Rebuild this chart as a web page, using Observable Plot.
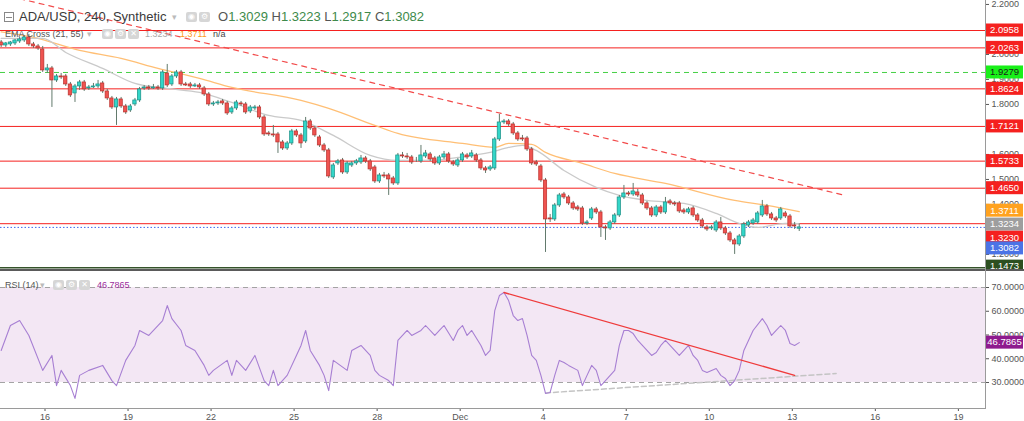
<!DOCTYPE html>
<html><head><meta charset="utf-8">
<script src="https://cdn.jsdelivr.net/npm/d3@7"></script>
<script src="https://cdn.jsdelivr.net/npm/@observablehq/plot@0.6"></script>
<style>
html,body{margin:0;padding:0;background:#fff;width:1024px;height:421px;overflow:hidden;font-family:"Liberation Sans",Arial,sans-serif}
#wrap{position:relative;width:1024px;height:421px;overflow:hidden}
#main,#rsi{position:absolute;left:0}
#main{top:0}
#rsi{top:270px}
.a{position:absolute;white-space:nowrap}
.t1{font-size:13px;color:#3a3a3a;line-height:13px}
.t2{font-size:9px;color:#555;line-height:9px}
.ib{position:absolute;width:11px;height:10px;background:#d6d6d6;border-radius:2px;color:#fff;font-size:8px;line-height:10px;text-align:center;font-family:"DejaVu Sans"}
.car{position:absolute;color:#bbb;font-size:9px;line-height:9px;font-family:"DejaVu Sans"}
.g{color:#3d8a4a}
.k{color:#555}
</style></head><body>
<div id="wrap">
<div id="main"></div>
<div id="rsi"></div>
<div class="a" style="left:0;top:269px;width:1024px;height:2px;background:#5a5a5a"></div>
<div class="a" style="left:985px;top:0;width:1px;height:409px;background:#9a9a9a"></div>

<div class="a" style="left:4px;top:12px;width:8px;height:8px;border:1px solid #888"><div style="position:absolute;left:1px;top:3.5px;width:6px;height:1px;background:#888"></div></div>
<div class="a t1" style="left:19px;top:10px">ADA/USD, 240, Synthetic</div>
<div class="car" style="left:172px;top:13px">▾</div>
<div class="ib" style="left:186px;top:12px">◉</div>
<div class="ib" style="left:199px;top:12px">⚙</div>
<div class="a t1" style="left:218px;top:10px"><span class="k">O</span><span class="g">1.3029</span> <span class="k">H</span><span class="g">1.3223</span> <span class="k">L</span><span class="g">1.2917</span> <span class="k">C</span><span class="g">1.3082</span></div>

<div class="a t2" style="left:5px;top:30px">EMA Cross (21, 55)</div>
<div class="car" style="left:87px;top:30px">▾</div>
<div class="ib" style="left:102px;top:29px">◉</div>
<div class="ib" style="left:115px;top:29px">⚙</div>
<div class="ib" style="left:128px;top:29px">✕</div>
<div class="a t2" style="left:145px;top:30px;color:#a9a9a9">1.3234</div>
<div class="a t2" style="left:180px;top:30px;color:#ff9a1a">1.3711</div>
<div class="a t2" style="left:213px;top:30px;color:#444">n/a</div>

<div class="a t2" style="left:5px;top:281px">RSI (14)</div>
<div class="car" style="left:40px;top:281px">▾</div>
<div class="ib" style="left:53px;top:280px">◉</div>
<div class="ib" style="left:66px;top:280px">⚙</div>
<div class="ib" style="left:79px;top:280px">✕</div>
<div class="a t2" style="left:97px;top:281px;color:#9b2c9b">46.7865</div>
</div>
<script>
// ---------- data (240-minute candles, ADA/USD) ----------
const firstBar = "2021-11-14T08:00:00Z";
const opens = [
2.048,2.036,2.040,2.044,2.052,2.056,2.068,2.040,2.032,2.020,
1.936,1.944,1.896,1.912,1.912,1.880,1.844,1.872,1.888,1.864,
1.868,1.872,1.884,1.852,1.824,1.788,1.820,1.792,1.776,1.800,
1.816,1.864,1.868,1.864,1.868,1.864,1.924,1.880,1.912,1.928,
1.880,1.880,1.872,1.876,1.864,1.840,1.800,1.804,1.812,1.804,
1.768,1.784,1.804,1.800,1.772,1.784,1.788,1.748,1.684,1.680,
1.680,1.648,1.624,1.644,1.692,1.676,1.652,1.732,1.704,1.668,
1.636,1.616,1.508,1.564,1.576,1.528,1.556,1.564,1.568,1.584,
1.572,1.548,1.492,1.516,1.516,1.504,1.484,1.596,1.592,1.588,
1.576,1.572,1.592,1.600,1.584,1.564,1.588,1.600,1.568,1.556,
1.576,1.596,1.592,1.596,1.576,1.544,1.540,1.544,1.660,1.728,
1.732,1.720,1.684,1.664,1.664,1.620,1.568,1.552,1.496,1.344,
1.340,1.396,1.440,1.428,1.404,1.388,1.384,1.324,1.344,1.380,
1.368,1.308,1.304,1.328,1.356,1.428,1.444,1.440,1.448,1.436,
1.404,1.384,1.356,1.388,1.368,1.412,1.404,1.404,1.376,1.368,
1.384,1.356,1.336,1.308,1.304,1.296,1.328,1.304,1.284,1.256,
1.240,1.272,1.316,1.324,1.328,1.356,1.392,1.360,1.344,1.344,
1.364,1.352,1.316,1.3029];
const highs = [
2.056,2.048,2.052,2.060,2.068,2.076,2.080,2.048,2.040,2.032,
1.960,1.952,1.920,1.924,1.920,1.888,1.880,1.896,1.896,1.876,
1.884,1.896,1.892,1.860,1.832,1.828,1.828,1.800,1.800,1.824,
1.868,1.876,1.876,1.880,1.876,1.936,1.960,1.920,1.936,1.936,
1.888,1.888,1.884,1.884,1.872,1.848,1.812,1.816,1.820,1.812,
1.792,1.816,1.812,1.808,1.796,1.796,1.796,1.756,1.692,1.716,
1.688,1.656,1.652,1.700,1.700,1.684,1.748,1.740,1.712,1.676,
1.644,1.624,1.564,1.580,1.584,1.572,1.572,1.580,1.596,1.592,
1.580,1.556,1.524,1.528,1.524,1.512,1.604,1.608,1.604,1.596,
1.588,1.636,1.616,1.608,1.592,1.596,1.612,1.608,1.576,1.584,
1.608,1.604,1.616,1.604,1.584,1.552,1.556,1.668,1.760,1.740,
1.740,1.728,1.692,1.676,1.672,1.628,1.576,1.560,1.504,1.360,
1.404,1.444,1.448,1.436,1.412,1.396,1.392,1.336,1.388,1.388,
1.376,1.316,1.336,1.364,1.436,1.476,1.452,1.484,1.460,1.444,
1.412,1.392,1.396,1.396,1.428,1.420,1.412,1.412,1.384,1.388,
1.392,1.364,1.344,1.316,1.316,1.336,1.348,1.312,1.292,1.264,
1.280,1.328,1.336,1.344,1.372,1.416,1.400,1.368,1.352,1.388,
1.372,1.360,1.328,1.3223];
const lows = [
2.028,2.028,2.032,2.036,2.044,2.048,2.032,2.024,2.016,1.928,
1.924,1.788,1.888,1.900,1.872,1.828,1.808,1.856,1.852,1.856,
1.864,1.864,1.844,1.816,1.780,1.716,1.784,1.760,1.768,1.792,
1.808,1.856,1.856,1.860,1.856,1.856,1.868,1.872,1.904,1.872,
1.872,1.864,1.868,1.860,1.832,1.792,1.792,1.796,1.796,1.756,
1.760,1.776,1.792,1.760,1.764,1.776,1.740,1.672,1.672,1.668,
1.604,1.616,1.616,1.636,1.668,1.624,1.644,1.696,1.668,1.628,
1.608,1.504,1.500,1.556,1.520,1.520,1.548,1.556,1.560,1.564,
1.532,1.484,1.484,1.504,1.436,1.476,1.476,1.584,1.580,1.560,
1.568,1.564,1.584,1.572,1.556,1.556,1.580,1.564,1.552,1.548,
1.568,1.580,1.584,1.568,1.536,1.524,1.532,1.536,1.652,1.720,
1.712,1.676,1.652,1.652,1.612,1.556,1.552,1.488,1.208,1.328,
1.332,1.388,1.420,1.396,1.376,1.372,1.316,1.316,1.336,1.360,
1.268,1.256,1.296,1.320,1.348,1.420,1.432,1.432,1.428,1.396,
1.376,1.348,1.348,1.360,1.360,1.396,1.392,1.364,1.360,1.360,
1.348,1.328,1.304,1.292,1.296,1.288,1.296,1.276,1.248,1.200,
1.232,1.264,1.308,1.316,1.320,1.348,1.352,1.336,1.328,1.336,
1.344,1.304,1.300,1.2917];
const closes = [
2.036,2.044,2.048,2.056,2.060,2.068,2.040,2.032,2.024,1.936,
1.944,1.896,1.912,1.908,1.880,1.836,1.872,1.888,1.860,1.868,
1.872,1.880,1.852,1.824,1.788,1.820,1.792,1.768,1.792,1.816,
1.860,1.868,1.864,1.868,1.864,1.928,1.876,1.912,1.928,1.880,
1.876,1.872,1.876,1.868,1.840,1.800,1.804,1.808,1.804,1.764,
1.784,1.808,1.800,1.768,1.788,1.788,1.748,1.680,1.680,1.676,
1.648,1.624,1.644,1.692,1.676,1.644,1.732,1.704,1.676,1.636,
1.616,1.512,1.556,1.572,1.528,1.564,1.564,1.572,1.584,1.572,
1.540,1.492,1.516,1.512,1.500,1.484,1.596,1.592,1.588,1.568,
1.576,1.596,1.604,1.580,1.564,1.588,1.600,1.572,1.560,1.576,
1.600,1.588,1.604,1.576,1.544,1.536,1.548,1.660,1.728,1.732,
1.720,1.684,1.660,1.660,1.620,1.564,1.560,1.496,1.340,1.340,
1.396,1.436,1.428,1.404,1.384,1.380,1.324,1.328,1.380,1.368,
1.308,1.304,1.328,1.356,1.428,1.444,1.440,1.452,1.436,1.404,
1.384,1.356,1.388,1.368,1.408,1.404,1.400,1.372,1.368,1.380,
1.356,1.336,1.312,1.300,1.308,1.328,1.304,1.284,1.256,1.240,
1.272,1.320,1.328,1.336,1.364,1.392,1.360,1.344,1.336,1.380,
1.352,1.312,1.312,1.3082];

// EMA 55 (orange) and EMA 21 (grey), read at bar indexes
const ema55Bar = [0,7,17,26,34,43,50,65,71,81,86,100,107,110,115,118,126,133,144,159,166,173];
const ema55Val = [2.090,2.068,2.016,1.984,1.944,1.904,1.868,1.816,1.784,1.716,1.684,1.644,1.628,1.644,1.640,1.608,1.564,1.524,1.484,1.416,1.396,1.3711];
const ema21Bar = [0,9,14,22,29,36,43,50,58,65,72,80,86,93,99,106,110,113,116,122,129,134,140,148,155,160,164,170,173];
const ema21Val = [2.064,2.064,2.008,1.944,1.884,1.864,1.848,1.808,1.756,1.736,1.676,1.596,1.576,1.576,1.588,1.608,1.628,1.636,1.616,1.536,1.468,1.436,1.416,1.404,1.364,1.324,1.308,1.324,1.3234];

// RSI(14)
const rsiBar = [0,2,4,6,9,11,12,13,15,16,17,19,22,24,25,27,29,30,32,35,36,37,39,40,42,44,45,46,49,50,51,53,55,57,58,59,60,62,64,65,66,67,69,70,71,72,75,76,78,80,81,82,84,85,86,88,89,91,92,94,95,96,98,99,100,101,102,104,105,106,107,108,109,110,111,112,113,114,115,116,117,118,119,120,121,122,123,125,126,127,128,129,130,131,133,134,135,136,137,138,140,141,142,143,144,145,146,147,148,149,150,151,152,153,155,156,157,158,159,160,161,162,163,165,166,167,168,169,170,171,172,173];
const rsiVal = [43.5,54.0,56.1,49.8,35.1,41.4,28.7,35.1,28.7,23.3,33.0,35.1,37.2,30.8,28.7,39.3,45.6,51.9,49.8,56.1,62.4,56.9,51.9,45.6,43.5,37.2,33.0,35.1,39.3,33.0,39.3,35.1,41.4,30.8,28.7,35.1,28.7,33.0,41.4,45.6,51.9,43.5,37.2,33.0,26.6,39.3,35.1,43.5,45.6,41.4,35.1,33.0,30.8,28.7,47.7,51.9,49.8,51.9,54.0,49.8,51.9,54.0,47.7,51.9,54.0,49.8,51.9,45.6,41.4,43.5,60.3,66.6,67.9,64.5,58.2,56.1,56.9,49.8,41.4,39.3,33.0,25.4,25.8,33.0,39.3,38.4,37.2,35.1,28.7,33.0,37.2,35.1,28.7,30.8,35.1,45.6,51.9,51.9,50.6,47.7,43.5,41.4,42.6,45.6,47.7,45.6,43.5,41.4,43.5,45.6,41.4,39.3,35.1,34.2,35.9,33.0,31.7,28.7,30.8,35.1,43.5,47.7,51.9,56.9,54.0,49.8,51.9,54.0,51.9,46.4,45.6,46.7865];

// drawn lines
const trendBar = [4, 183];          // red dashed price trendline
const trendVal = [2.223, 1.436];
const rsiRedBar = [109, 172];       // RSI red trendline
const rsiRedVal = [67.9, 33.0];
const rsiGreyBar = [118, 181];      // RSI grey dashed trendline
const rsiGreyVal = [25.6, 33.8];

// horizontal levels
const redLevels = [2.0958, 2.0263, 1.8624, 1.7121, 1.5733, 1.4650, 1.3230];
const greenLevel = 1.9279;
const lastPrice = 1.3082;
const supportLevel = 1.1473;
const emaLast = [1.3234, 1.3711];   // EMA21, EMA55
const rsiLast = 46.7865;
const rsiBands = [30, 70];

// axes (ticks fully hidden behind the price badges are not listed)
const priceTicks = [1.2,1.4,1.5,1.6,1.8,1.9,2.0,2.2];
const rsiTicks = [30,40,50,60,70];
const xTickDates = ["2021-11-16","2021-11-19","2021-11-22","2021-11-25","2021-11-28","2021-12-01","2021-12-04","2021-12-07","2021-12-10","2021-12-13","2021-12-16","2021-12-19"];
const xTickLabels = ["16","19","22","25","28","Dec","4","7","10","13","16","19"];

// ---------- build ----------
const HOUR = 3600e3, BAR = 4*HOUR, DAY = 864e5;
const T0 = Date.parse(firstBar);
const NOV16 = Date.parse(xTickDates[0] + "T00:00:00Z");
const tOf = i => new Date(T0 + i*BAR + 2*HOUR);
const xDomain = [new Date(NOV16 - 1.608*DAY), new Date(NOV16 + 33.98*DAY)];

const candles = opens.map((o, i) => ({
  t: tOf(i), ta: new Date(+tOf(i) - 1.45*HOUR), tb: new Date(+tOf(i) + 1.45*HOUR),
  o, h: highs[i], l: lows[i], c: closes[i], up: closes[i] >= o
}));
const series = (bars, vals) => bars.map((b, j) => ({t: tOf(b), v: vals[j]}));
const ema55 = series(ema55Bar, ema55Val);
const ema21 = series(ema21Bar, ema21Val);
const rsi = series(rsiBar, rsiVal);
const trend = series(trendBar, trendVal);
const rsiRed = series(rsiRedBar, rsiRedVal);
const rsiGrey = series(rsiGreyBar, rsiGreyVal);
const tickDates = xTickDates.map(s => new Date(s + "T00:00:00Z"));
const tickLabel = new Map(tickDates.map((d, i) => [+d, xTickLabels[i]]));

const RED = "#f5211f";
const badgeMark = (list) => (index, scales, values, dims) => {
  const g = d3.create("svg:g");
  const x0 = dims.width - dims.marginRight + 1;
  for (const b of list) {
    const y = scales.y(b.v) + (b.dy || 0);
    g.append("rect").attr("x", x0).attr("y", y - 6.5).attr("width", 37).attr("height", 13).attr("fill", b.bg);
    g.append("text").attr("x", x0 + 18.5).attr("y", y).attr("dy", "0.35em")
      .attr("text-anchor", "middle").attr("fill", b.fg || "#fff")
      .attr("font-size", "9.5px").attr("font-family", "Liberation Sans, Arial, sans-serif")
      .text(b.v.toFixed(4));
  }
  return g.node();
};

const mainBadges = [
  {v: redLevels[0], bg: RED}, {v: redLevels[1], bg: RED},
  {v: greenLevel, bg: "#19f019", fg: "#1b1b1b"},
  {v: redLevels[2], bg: RED}, {v: redLevels[3], bg: RED},
  {v: redLevels[4], bg: RED}, {v: redLevels[5], bg: RED},
  {v: emaLast[1], bg: "#ffa21f", dy: -1},
  {v: emaLast[0], bg: "#9e9e9e", dy: 1},
  {v: redLevels[6], bg: RED, dy: 14},
  {v: lastPrice, bg: "#4b73e6", dy: 21},
  {v: supportLevel, bg: "#2c4f20", dy: -1}
];

const font = "Liberation Sans, Arial, sans-serif";
const main = Plot.plot({
  width: 1024, height: 270, marginLeft: 0, marginRight: 39, marginTop: 0, marginBottom: 2,
  style: {background: "transparent", fontFamily: font, fontSize: "9px", color: "#555"},
  x: {type: "utc", domain: xDomain, axis: null},
  y: {domain: [1.1438, 2.2158], axis: "right", ticks: priceTicks, tickFormat: d => d.toFixed(4), tickSize: 3, tickPadding: 3, label: null},
  marks: [
    Plot.ruleY(redLevels, {stroke: RED, strokeWidth: 1}),
    Plot.ruleY([greenLevel], {stroke: "#45d045", strokeDasharray: "5,4"}),
    Plot.ruleY([lastPrice], {stroke: "#3f66ee", strokeDasharray: "1.5,2"}),
    Plot.ruleY([supportLevel], {stroke: "#35532a", strokeWidth: 1.5}),
    Plot.line(trend, {x: "t", y: "v", stroke: "#f24a4a", strokeWidth: 1.2, strokeDasharray: "5,5", clip: true}),
    Plot.line(ema55, {x: "t", y: "v", stroke: "#ffbf75", strokeWidth: 1.3, curve: "monotone-x"}),
    Plot.line(ema21, {x: "t", y: "v", stroke: "#cacaca", strokeWidth: 1.3, curve: "monotone-x"}),
    Plot.ruleX(candles, {x: "t", y1: "l", y2: "h", stroke: "#627a6c", strokeWidth: 1}),
    Plot.rect(candles, {x1: "ta", x2: "tb", y1: "o", y2: "c",
      fill: d => d.up ? "#33d6c8" : "#ef5350", stroke: d => d.up ? "#1a8f86" : "#b8302c", strokeWidth: 0.7}),
    badgeMark(mainBadges)
  ]
});
document.getElementById("main").append(main);

const rsiPlot = Plot.plot({
  width: 1024, height: 151, marginLeft: 0, marginRight: 39, marginTop: 0, marginBottom: 13,
  style: {background: "transparent", fontFamily: font, fontSize: "9px", color: "#555"},
  x: {type: "utc", domain: xDomain, axis: "bottom", ticks: tickDates, tickFormat: d => tickLabel.get(+d), tickSize: 3, tickPadding: 2, label: null},
  y: {domain: [19.05, 77.16], axis: "right", ticks: rsiTicks, tickFormat: d => d.toFixed(4), tickSize: 3, tickPadding: 3, label: null},
  marks: [
    Plot.rect([{a: xDomain[0], b: xDomain[1], lo: rsiBands[0], hi: rsiBands[1]}], {x1: "a", x2: "b", y1: "lo", y2: "hi", fill: "#f3e7f4"}),
    Plot.ruleY(rsiBands, {stroke: "#a3a3a3", strokeDasharray: "5,4"}),
    Plot.ruleY([19.05], {stroke: "#9a9a9a"}),
    Plot.line(rsiGrey, {x: "t", y: "v", stroke: "#c4c4c4", strokeDasharray: "5,3"}),
    Plot.line(rsi, {x: "t", y: "v", stroke: "#a77fd3", strokeWidth: 1.1}),
    Plot.line(rsiRed, {x: "t", y: "v", stroke: "#ef3b3b", strokeWidth: 1.4}),
    badgeMark([{v: rsiLast, bg: "#8e1a8e"}])
  ]
});
document.getElementById("rsi").append(rsiPlot);
</script>
</body></html>
